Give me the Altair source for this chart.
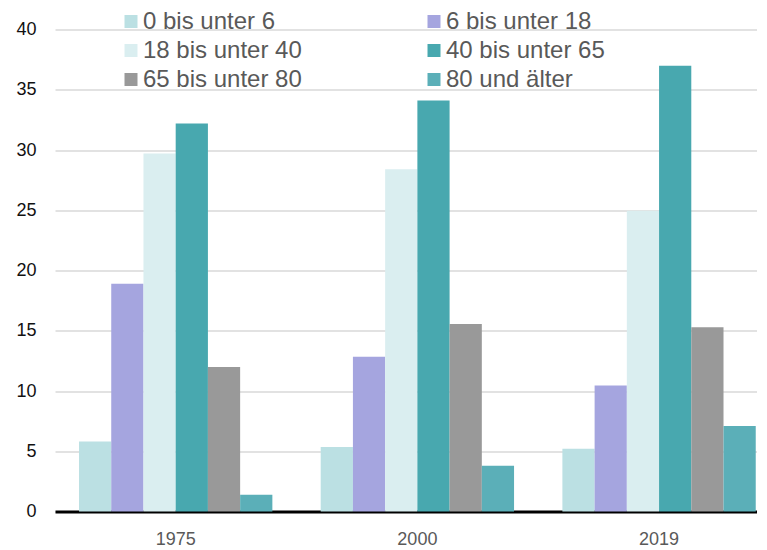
import altair as alt
import pandas as pd

years = ["1975", "2000", "2019"]
groups = ["0 bis unter 6", "6 bis unter 18", "18 bis unter 40",
          "40 bis unter 65", "65 bis unter 80", "80 und älter"]
v1975 = [5.8, 18.9, 29.7, 32.2, 12.0, 1.4]
v2000 = [5.35, 12.85, 28.4, 34.1, 15.55, 3.8]
v2019 = [5.2, 10.45, 24.95, 37.0, 15.3, 7.1]
colors = ["#BBE0E3", "#A5A5DF", "#DAEEF0", "#48A8AF", "#999999", "#5BAFB8"]

rows = []
for yr, vals in zip(years, [v1975, v2000, v2019]):
    for g, v in zip(groups, vals):
        rows.append({"Jahr": yr, "Gruppe": g, "Wert": v})
df = pd.DataFrame(rows)

# legend fills column by column: reorder so it reads row by row
legend_order = [0, 2, 4, 1, 3, 5]
leg_groups = [groups[i] for i in legend_order]
leg_colors = [colors[i] for i in legend_order]

FONT = "Liberation Sans"

chart = alt.Chart(df).mark_bar().encode(
    x=alt.X("Jahr:N", sort=years, title=None,
            scale=alt.Scale(paddingInner=0.2, paddingOuter=0.0523, align=0.95),
            axis=alt.Axis(labelAngle=0, labelFont=FONT, labelFontSize=18,
                          labelColor="#595959", labelPadding=19, ticks=False,
                          domain=True, domainColor="#000000", domainWidth=3,
                          grid=False)),
    xOffset=alt.XOffset("Gruppe:N", sort=groups,
                        scale=alt.Scale(paddingInner=0, paddingOuter=0)),
    y=alt.Y("Wert:Q", title=None,
            scale=alt.Scale(domain=[0, 40], nice=False),
            axis=alt.Axis(values=[0, 5, 10, 15, 20, 25, 30, 35, 40],
                          labelFont=FONT, labelFontSize=18, labelColor="#111111",
                          labelPadding=19, ticks=False, domain=False,
                          grid=True, gridColor="#D9D9D9", gridWidth=1.5)),
    color=alt.Color("Gruppe:N",
                    scale=alt.Scale(domain=leg_groups, range=leg_colors),
                    legend=alt.Legend(title=None, orient="none", legendX=64, legendY=-20,
                                      columns=2, columnPadding=120, rowPadding=5,
                                      symbolType="square", symbolSize=169,
                                      symbolStrokeWidth=0, labelFont=FONT,
                                      labelFontSize=24, labelColor="#595959",
                                      labelOffset=0, labelLimit=400, padding=0)),
).properties(
    width=702, height=482,
    autosize=alt.AutoSizeParams(type="none"),
    padding={"left": 47, "top": 21.5, "right": 0, "bottom": 38},
).configure_view(stroke=None)

chart.save("out.html", embed_options={"renderer": "svg", "actions": False})
